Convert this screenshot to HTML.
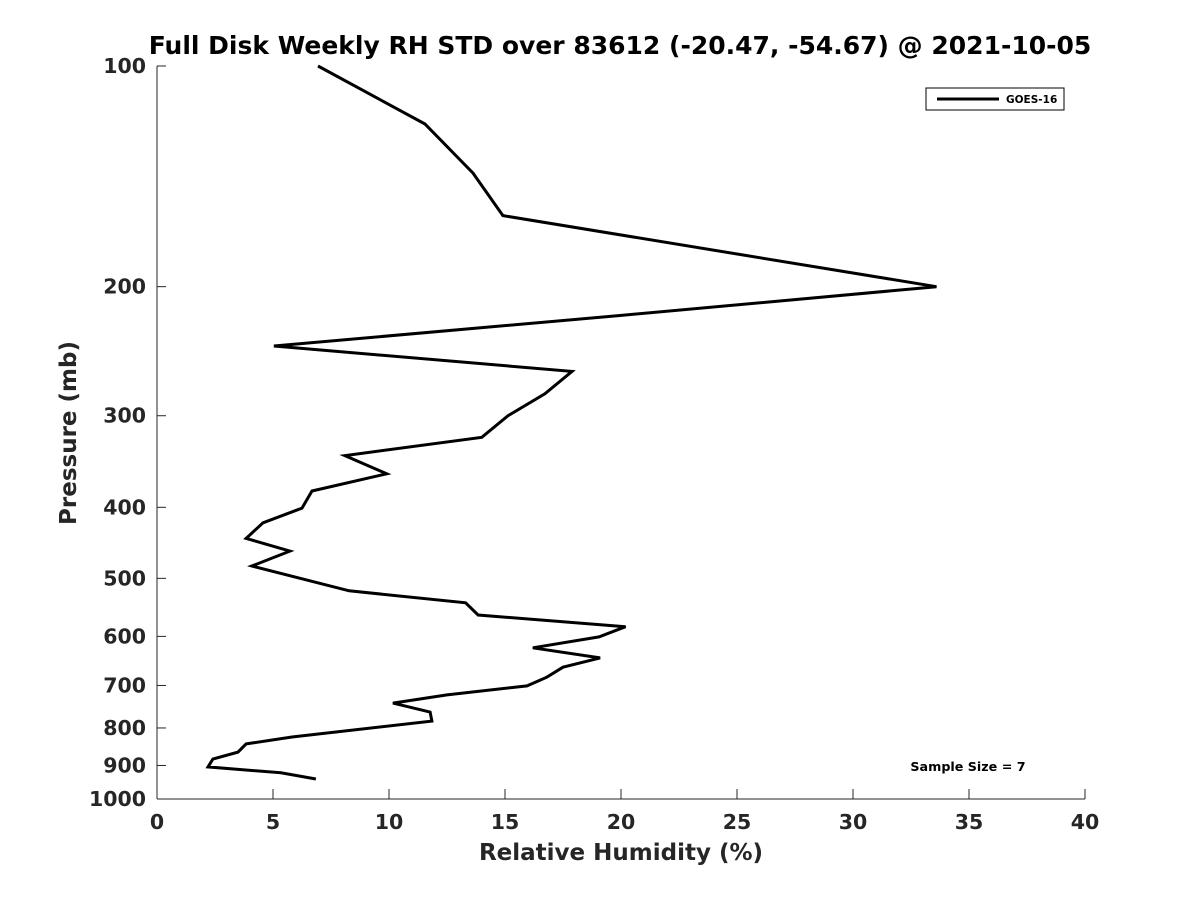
<!DOCTYPE html>
<html><head><meta charset="utf-8"><style>
html,body{margin:0;padding:0;background:#fff;}
svg{display:block;font-family:"DejaVu Sans","Liberation Sans",sans-serif;}
</style></head><body>
<svg id="chart" width="1200" height="900" viewBox="0 0 1200 900">
<rect width="1200" height="900" fill="#fff"/>
<text x="620" y="54" text-anchor="middle" font-size="25" font-weight="bold" fill="#000">Full Disk Weekly RH STD over 83612 (-20.47, -54.67) @ 2021-10-05</text>
<g id="axes"></g>
<g id="series"></g>
<g>
<rect x="926" y="88" width="138" height="22" fill="#fff" stroke="#000" stroke-width="1"/>
<line x1="937" y1="99" x2="999" y2="99" stroke="#000" stroke-width="3"/>
<text x="1006" y="103" font-size="10.5" font-weight="bold">GOES-16</text>
</g>
<text x="968" y="771" text-anchor="middle" font-size="12.7" font-weight="bold">Sample Size = 7</text>
<text x="621" y="860" text-anchor="middle" font-size="23" font-weight="bold" fill="#262626">Relative Humidity (%)</text>
<text transform="translate(76,433) rotate(-90)" text-anchor="middle" font-size="23" font-weight="bold" fill="#262626">Pressure (mb)</text>
</svg>
<script>
const xTicks=[0,5,10,15,20,25,30,35,40];
const yTicks=[100,200,300,400,500,600,700,800,900,1000];
const pressures=[100,120,140,160,200,219,241,261,280,300,321,340,360,380,401,420,441,459,481,502,520,540,561,582,601,622,642,661,682,701,721,740,761,783,823,841,863,882,904,921,939];
const rhStd=[6.94,11.55,13.62,14.91,33.6,19.96,5.04,17.89,16.72,15.13,14.0,8.1,9.9,6.68,6.25,4.57,3.84,5.73,4.09,6.38,8.28,13.3,13.84,20.2,19.05,16.2,19.1,17.5,16.8,15.95,12.5,10.17,11.77,11.85,5.82,3.84,3.49,2.41,2.2,5.34,6.85];
const X0=157,X1=1085,Y0=66,Y1=799;
function xs(v){return X0+(v-0)/(40-0)*(X1-X0);}
function ys(p){return Y0+(Math.log10(p)-2)/(1)*(Y1-Y0);}
const NS="http://www.w3.org/2000/svg";
const axes=document.getElementById('axes');
function mk(t,a,parent){const e=document.createElementNS(NS,t);for(const k in a)e.setAttribute(k,a[k]);parent.appendChild(e);return e;}
const xl=mk('line',{x1:X0,y1:Y1,x2:X1,y2:Y1,stroke:'#262626','stroke-width':1},axes);


const yl=mk('line',{x1:X0,y1:Y0,x2:X0,y2:Y1,stroke:'#262626','stroke-width':1},axes);


xTicks.forEach(v=>{
 const x=xs(v);
 mk('line',{x1:x,y1:Y1,x2:x,y2:Y1-10,stroke:'#262626'},axes);
 const t=mk('text',{x:x,y:Y1+30,'text-anchor':'middle','font-size':20.5,'font-weight':'bold',fill:'#262626'},axes);
 t.textContent=v;
 
 
});
yTicks.forEach(p=>{
 const y=ys(p);
 mk('line',{x1:X0,y1:y,x2:X0+9,y2:y,stroke:'#262626'},axes);
 const t=mk('text',{x:X0-11,y:y+7,'text-anchor':'end','font-size':20.5,'font-weight':'bold',fill:'#262626'},axes);
 t.textContent=p;
 
 
});
const pts=pressures.map((p,i)=>xs(rhStd[i]).toFixed(1)+','+ys(p).toFixed(1)).join(' ');
const line=mk('polyline',{points:pts,fill:'none',stroke:'#000','stroke-width':3,'stroke-linejoin':'miter'},document.getElementById('series'));


</script>
</body></html>
